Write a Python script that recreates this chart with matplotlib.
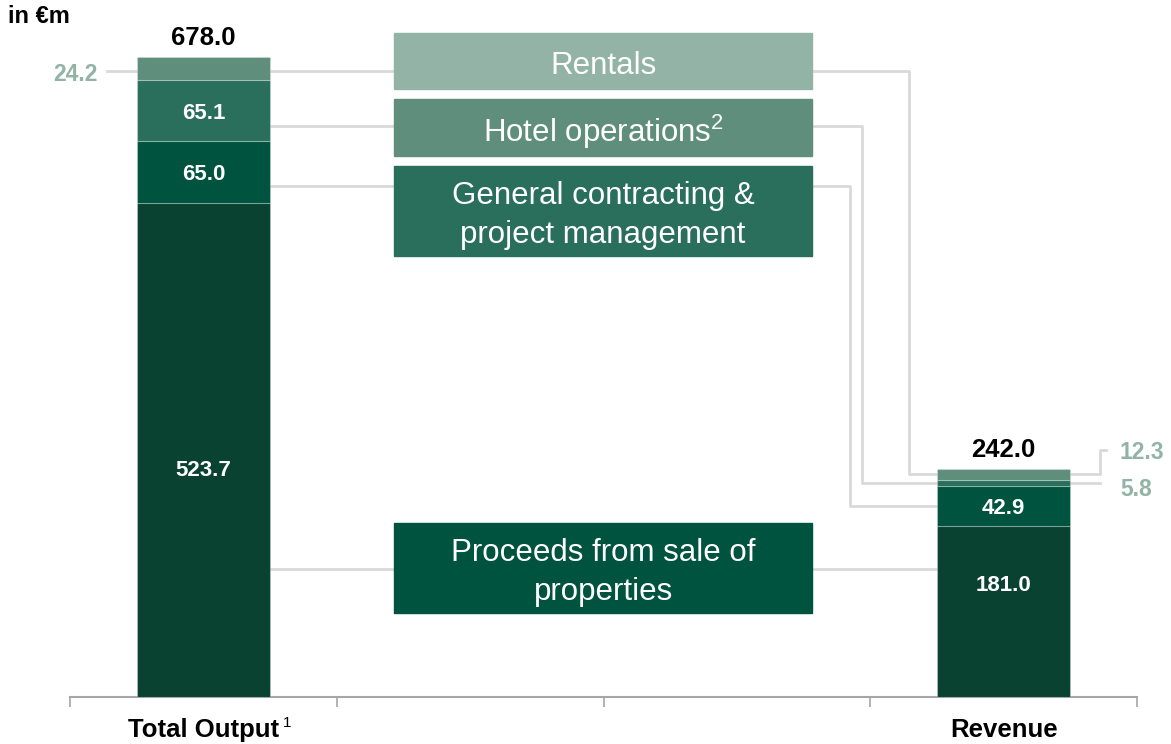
import numpy as np
import matplotlib.pyplot as plt

plt.rcParams['font.family'] = ['Liberation Sans', 'DejaVu Sans']
plt.rcParams['mathtext.fontset'] = 'custom'
plt.rcParams['mathtext.rm'] = 'Liberation Sans'

# data (in EUR m), segments from bottom to top
segments = ['Proceeds from sale of\nproperties',
            'General contracting &\nproject management',
            'Hotel operations$^{2}$',
            'Rentals']
total_output = [523.7, 65.0, 65.1, 24.2]
revenue = [181.0, 42.9, 5.8, 12.3]
total_labels = ['678.0', '242.0']
cat_labels = ['Total Output', 'Revenue']

bar_cols = ['#0a4231', '#00533f', '#2a6e5c', '#5f8e7d']
box_cols = ['#00533f', '#2a6e5c', '#5f8e7d', '#92b3a6']
side_col = '#92b3a6'
line_col = '#d9d9d9'

fig = plt.figure(figsize=(11.71, 7.44), dpi=100)
ax = fig.add_axes([70/1171, 47/744, 1067/1171, 660.8/744])
ax.set_xlim(-0.5, 3.5)
ax.set_ylim(0, 700)

xpos = [0, 3]
w = 0.5
for x, vals in zip(xpos, [total_output, revenue]):
    bottoms = np.concatenate([[0], np.cumsum(vals)[:-1]])
    ax.bar([x]*len(vals), vals, width=w, bottom=bottoms, color=bar_cols,
           edgecolor=(1, 1, 1, 0.25), linewidth=0.8, zorder=3)

# totals on top
for x, vals, lab in zip(xpos, [total_output, revenue], total_labels):
    ax.annotate(lab, (x, sum(vals)), xytext=(0, 5), textcoords='offset points',
                ha='center', va='bottom', fontsize=18.5, fontweight='bold')

# labels inside bars (shifted a little down, va=center counts the descent)
dy = -3.2
def seg_label(x, vals, i, y=None):
    b = sum(vals[:i])
    if y is None:
        y = b + vals[i] / 2
    ax.text(x, y + dy, f'{vals[i]:.1f}', ha='center', va='center', color='white',
            fontsize=16, fontweight='bold', zorder=4)

seg_label(0, total_output, 0, y=243)
seg_label(0, total_output, 1)
seg_label(0, total_output, 2)
seg_label(3, revenue, 0, y=121)
seg_label(3, revenue, 1)

# small values outside the bars
ax.plot([-0.361, -0.25], [663, 663], color=line_col, lw=2, clip_on=False, zorder=1)
ax.text(-0.395, 663 + dy, f'{total_output[3]:.1f}', ha='right', va='center',
        color=side_col, fontsize=16.5, fontweight='bold')
top_mid = sum(revenue[:3]) + revenue[3] / 2
ax.plot([3.25, 3.361, 3.361, 3.384], [top_mid, top_mid, 262, 262],
        color=line_col, lw=2, clip_on=False, zorder=1)
ax.text(3.436, 262 + dy, f'{revenue[3]:.1f}', ha='left', va='center',
        color=side_col, fontsize=16.5, fontweight='bold')
hot_mid = sum(revenue[:2]) + revenue[2] / 2
ax.plot([3.25, 3.361], [hot_mid, hot_mid], color=line_col, lw=2, clip_on=False, zorder=1)
ax.text(3.436, 223 + dy, f'{revenue[2]:.1f}', ha='left', va='center',
        color=side_col, fontsize=16.5, fontweight='bold')

# boxes with segment names
box_x0, box_x1 = 0.715, 2.282
box_y = [(89.0, 184.3), (467.2, 562.5), (573.1, 633.5), (644.1, 703.4)]
left_lvl = [135.6, 541.3, 605.0, 663.2]
vert_x = [None, 2.424, 2.469, 2.645]
for i, name in enumerate(segments):
    y0, y1 = box_y[i]
    ax.add_patch(plt.Rectangle((box_x0, y0), box_x1 - box_x0, y1 - y0,
                               color=box_cols[i], zorder=2, clip_on=False))
    ax.text((box_x0 + box_x1) / 2, (y0 + y1) / 2 - 4.8, name, ha='center',
            va='center', color='white', fontsize=22.5, linespacing=1.36, zorder=3)
    end = sum(revenue[:i]) + revenue[i] / 2
    if vert_x[i] is None:
        ax.plot([0.25, 2.75], [left_lvl[i]]*2, color=line_col, lw=2, zorder=1)
    else:
        ax.plot([0.25, vert_x[i], vert_x[i], 2.75],
                [left_lvl[i], left_lvl[i], end, end],
                color=line_col, lw=2, zorder=1, clip_on=False)

fig.text(8/1171, 1 - 5/744, 'in €m', fontsize=17, fontweight='bold', va='top')

# axes styling
for s in ['top', 'right', 'left']:
    ax.spines[s].set_visible(False)
ax.spines['bottom'].set_color('#a6a6a6')
ax.spines['bottom'].set_linewidth(1.5)
ax.set_yticks([])
ax.set_xticks(xpos)
ax.set_xticklabels(cat_labels, fontsize=18.5, fontweight='bold')
for lbl in ax.get_xticklabels():
    lbl.set_va('baseline')
ax.tick_params(axis='x', which='major', length=0, pad=29)
ax.set_xticks([-0.5, 0.5, 1.5, 2.5, 3.5], minor=True)
ax.tick_params(axis='x', which='minor', length=7, width=1.2, color='#a6a6a6')
# footnote mark after "Total Output"
ax.text(0.298, -30/660.8, '1', transform=ax.get_xaxis_transform(),
        fontsize=11, va='baseline', ha='left')

fig.savefig('out.png', dpi=100)
